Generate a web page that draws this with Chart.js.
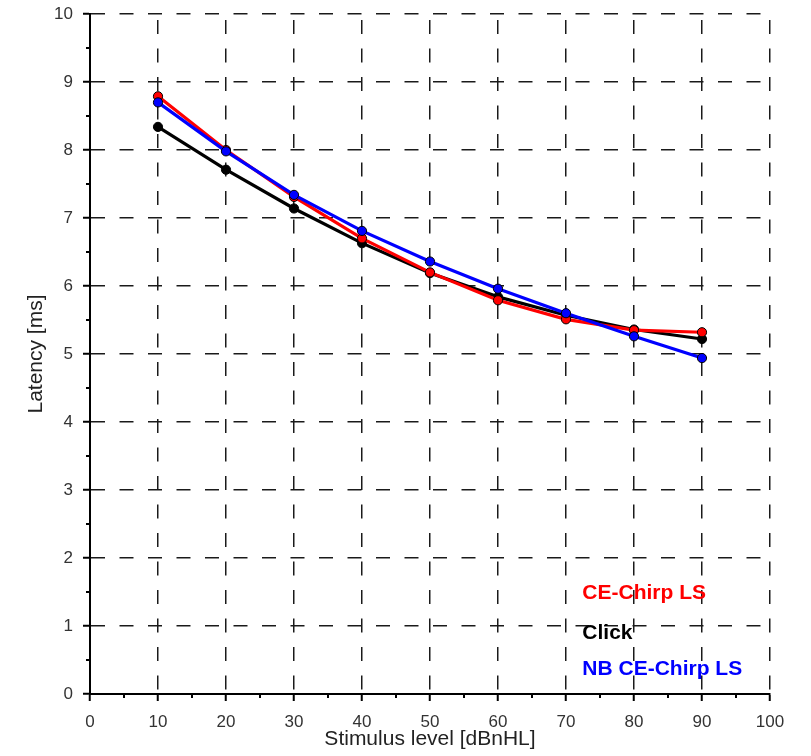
<!DOCTYPE html>
<html>
<head>
<meta charset="utf-8">
<script src="https://cdn.jsdelivr.net/npm/chart.js@4/dist/chart.umd.min.js"></script>
<style>
  html, body { margin: 0; padding: 0; background: #fff; }
  #wrap { width: 811px; height: 756px; }
</style>
</head>
<body>
<div id="wrap"><canvas id="c" width="811" height="756"></canvas></div>
<script>
// Stimulus levels (dBnHL) and wave V latencies (ms)
const levels = [10, 20, 30, 40, 50, 60, 70, 80, 90];
const ceChirpLS = [8.79, 8.00, 7.31, 6.70, 6.20, 5.79, 5.51, 5.35, 5.32];
const click = [8.34, 7.71, 7.14, 6.63, 6.19, 5.84, 5.57, 5.36, 5.22];
const nbCeChirpLS = [8.70, 7.98, 7.34, 6.81, 6.36, 5.96, 5.60, 5.26, 4.94];

const seriesNames = ['CE-Chirp LS', 'Click', 'NB CE-Chirp LS'];
const seriesColors = ['#ff0000', '#000000', '#0000ff'];

const xTitle = 'Stimulus level [dBnHL]';
const yTitle = 'Latency [ms]';

const FONT = "'Liberation Sans', Arial, Helvetica, sans-serif";

function pts(values) {
  return levels.map((x, i) => ({ x: x, y: values[i] }));
}

function makeSet(name, values, color, order) {
  return {
    label: name,
    data: pts(values),
    borderColor: color,
    backgroundColor: color,
    borderWidth: 3.2,
    pointRadius: 4.6,
    pointBorderColor: '#000',
    pointBorderWidth: 1,
    pointBackgroundColor: color,
    tension: 0,
    order: order
  };
}

// Small unlabeled ticks at the half steps, outside the axes
const minorTicks = {
  id: 'minorTicks',
  afterDraw(chart) {
    const { ctx, chartArea, scales } = chart;
    ctx.save();
    ctx.strokeStyle = '#000';
    ctx.lineWidth = 2;
    ctx.beginPath();
    for (let v = 5; v < 100; v += 10) {
      const px = scales.x.getPixelForValue(v);
      ctx.moveTo(px, chartArea.bottom);
      ctx.lineTo(px, chartArea.bottom + 4);
    }
    for (let v = 0.5; v < 10; v += 1) {
      const py = scales.y.getPixelForValue(v);
      ctx.moveTo(chartArea.left - 4, py);
      ctx.lineTo(chartArea.left, py);
    }
    ctx.stroke();
    ctx.restore();
  }
};

// Series names written inside the plot, each in its series colour
const seriesKey = {
  id: 'seriesKey',
  afterDatasetsDraw(chart) {
    const { ctx, scales } = chart;
    const anchors = [1.48, 0.89, 0.37];
    const x0 = scales.x.getPixelForValue(72.4);
    ctx.save();
    ctx.font = 'bold 21px ' + FONT;
    ctx.textAlign = 'left';
    ctx.textBaseline = 'middle';
    seriesNames.forEach((name, i) => {
      ctx.fillStyle = seriesColors[i];
      ctx.fillText(name, x0, scales.y.getPixelForValue(anchors[i]));
    });
    ctx.restore();
  }
};

new Chart(document.getElementById('c'), {
  type: 'line',
  data: {
    datasets: [
      makeSet(seriesNames[2], nbCeChirpLS, seriesColors[2], 0),
      makeSet(seriesNames[0], ceChirpLS, seriesColors[0], 1),
      makeSet(seriesNames[1], click, seriesColors[1], 2)
    ]
  },
  options: {
    responsive: false,
    animation: false,
    devicePixelRatio: 1,
    layout: { padding: { top: 14, right: 41, left: 0, bottom: 0 } },
    plugins: {
      legend: { display: false },
      tooltip: { enabled: false }
    },
    scales: {
      x: {
        type: 'linear',
        min: 0,
        max: 100,
        afterFit(s) {
          s.height = 62;
          s.paddingLeft = 0;
          s.paddingRight = 0;
        },
        ticks: {
          stepSize: 10,
          padding: 11,
          color: '#333',
          font: { family: FONT, size: 17 }
        },
        grid: {
          color: '#1a1a1a',
          lineWidth: 1.5,
          tickLength: 7,
          tickColor: '#000',
          tickWidth: 2
        },
        border: {
          display: true,
          color: '#000',
          width: 2,
          dash: [14, 14.5],
          dashOffset: 22.5
        },
        title: {
          display: true,
          text: xTitle,
          color: '#222',
          font: { family: FONT, size: 21 },
          padding: { top: 0, bottom: 4.5 }
        }
      },
      y: {
        type: 'linear',
        min: 0,
        max: 10,
        afterFit(s) {
          s.width = 90;
          s.paddingTop = 0;
          s.paddingBottom = 0;
        },
        ticks: {
          stepSize: 1,
          padding: 10,
          color: '#333',
          font: { family: FONT, size: 17 }
        },
        grid: {
          color: '#1a1a1a',
          lineWidth: 1.5,
          tickLength: 7,
          tickColor: '#000',
          tickWidth: 2
        },
        border: {
          display: true,
          color: '#000',
          width: 2,
          dash: [14, 14.5],
          dashOffset: 0
        },
        title: {
          display: true,
          text: yTitle,
          color: '#222',
          font: { family: FONT, size: 21 },
          padding: { top: 24, bottom: 0 }
        }
      }
    }
  },
  plugins: [minorTicks, seriesKey]
});
</script>
</body>
</html>
